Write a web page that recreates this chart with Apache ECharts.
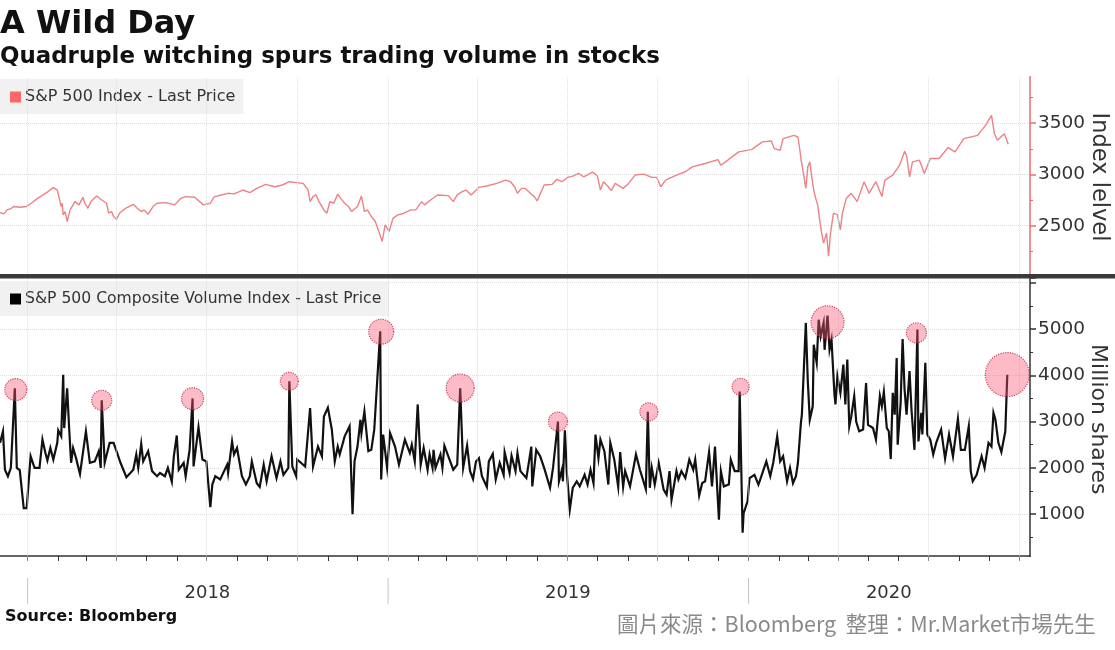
<!DOCTYPE html>
<html>
<head>
<meta charset="utf-8">
<title>A Wild Day</title>
<script src="https://cdn.jsdelivr.net/npm/echarts@6/dist/echarts.min.js"></script>
<style>
html, body { margin: 0; padding: 0; background: #fff; }
#main { width: 1115px; height: 650px; }
</style>
</head>
<body>
<div id="main"></div>
<script>
"use strict";

var startDate = '2017-12-04';
var endDate = '2020-10-12';

/* S&P 500 Index, days after startDate */
var indexDays = [0,4,7,11,14,20,27,33,38,42,47,54,58,60,62,63,64,66,68,71,74,76,80,84,86,89,92,98,103,108,110,113,115,118,121,125,129,135,139,143,146,150,155,159,168,177,183,188,197,206,213,217,224,231,237,246,253,260,269,278,286,293,307,312,314,317,320,323,325,328,331,334,338,342,345,349,353,356,362,366,369,372,376,380,383,387,390,394,398,403,409,416,421,427,430,436,443,454,459,463,468,472,477,485,494,503,512,517,521,524,528,532,537,541,544,548,551,559,564,569,575,580,586,591,600,605,608,611,616,619,623,631,636,643,652,660,665,669,674,685,694,701,714,727,730,737,748,761,772,781,784,790,793,804,808,810,811,813,816,818,820,822,824,826,828,830,832,834,837,839,841,844,848,851,853,857,862,868,875,880,887,893,896,904,911,916,918,921,924,931,936,942,951,960,967,976,990,998,1004,1007,1010,1017,1021];
var indexValues = [2629,2616,2654,2667,2687,2680,2687,2729,2767,2790,2822,2871,2848,2832,2687,2719,2606,2638,2541,2654,2703,2735,2703,2777,2719,2670,2735,2790,2751,2719,2622,2638,2590,2564,2622,2654,2680,2709,2670,2638,2654,2612,2687,2719,2725,2703,2767,2784,2777,2703,2719,2784,2800,2816,2810,2848,2822,2864,2903,2880,2897,2929,2913,2848,2735,2784,2800,2735,2703,2654,2622,2735,2719,2809,2767,2719,2687,2638,2687,2790,2638,2654,2590,2541,2460,2348,2509,2444,2574,2606,2622,2654,2654,2735,2703,2751,2800,2793,2735,2800,2832,2848,2800,2874,2890,2913,2945,2929,2880,2816,2864,2864,2816,2784,2742,2832,2897,2903,2952,2929,2971,2984,3010,2977,3023,2984,2848,2929,2880,2842,2913,2864,2906,2994,3003,2971,2971,2880,2945,2994,3026,3074,3107,3145,3090,3139,3220,3242,3317,3326,3252,3236,3349,3381,3365,3236,3155,3042,2864,3074,3123,2977,2848,2767,2703,2557,2428,2331,2428,2202,2428,2622,2606,2460,2622,2767,2816,2735,2929,2816,2929,2784,2945,2994,3090,3226,3187,2977,3123,3139,3010,3155,3155,3262,3220,3349,3381,3478,3575,3397,3333,3397,3294];

/* S&P 500 Composite Volume Index, days after startDate */
var volumeDays = [0,3,5,8,11,13,15,17,20,24,27,31,35,40,43,46,48,51,54,58,59,62,64,65,68,70,72,74,77,81,87,91,96,100,102,103,106,111,115,118,122,128,135,138,140,143,145,150,154,159,162,167,170,174,176,179,181,186,188,192,195,196,201,205,209,213,215,218,223,230,231,235,237,240,245,249,253,255,260,263,267,270,275,280,284,287,292,293,296,300,301,309,314,317,322,326,328,332,336,339,342,344,349,354,357,359,362,365,366,369,373,376,379,381,385,386,388,392,395,400,404,410,415,417,420,423,426,429,433,435,438,439,441,446,448,450,454,459,463,466,469,473,476,479,482,485,488,493,495,499,502,506,510,511,516,518,522,524,527,533,536,538,539,543,547,551,557,560,565,566,569,570,572,574,577,580,584,587,592,595,598,601,603,606,608,612,616,618,622,626,628,631,633,638,644,648,654,656,658,660,663,667,672,675,678,680,685,687,690,694,698,702,704,708,711,714,718,721,724,728,730,733,738,740,744,748,749,752,753,757,759,764,768,771,776,780,783,787,790,793,797,800,803,806,808,811,812,816,818,820,823,824,827,829,831,834,835,838,840,842,845,846,848,851,854,856,858,860,862,865,867,870,874,877,879,884,887,891,893,895,898,900,902,904,906,908,909,912,914,916,918,921,923,926,929,930,933,934,937,939,942,945,948,953,957,961,965,970,973,977,981,983,985,989,994,997,1001,1004,1006,1008,1011,1014,1018,1020];
var volumeValues = [2540,2790,1960,1820,2000,2030,3720,2000,1950,1130,1130,2250,2000,2000,2610,2320,2160,2430,2180,2540,2810,2680,4010,2860,3720,2860,2110,2430,2210,1870,2790,2110,2140,2360,2000,3460,2110,2540,2540,2360,2110,1800,1960,2290,2000,2520,2140,2360,1930,1820,1890,1820,2000,1700,2250,2700,1960,2110,1820,2390,3500,2030,2880,2180,2140,1150,1640,1820,1750,2070,1890,2570,2290,2430,1820,1640,1820,2140,1670,1590,2070,1710,2250,1780,2140,1850,2000,3870,2030,1820,2180,2030,3290,2030,2460,2250,3110,3300,2830,2140,2460,2290,2680,2900,1000,2140,2460,3040,2750,3220,2360,2390,2830,2830,4950,1750,2720,2000,2750,2460,2070,2610,2320,2500,2140,3370,2070,2430,1960,2290,2000,2390,2000,2290,2000,2480,2250,1960,2070,3720,2000,2480,1930,1760,2140,2210,1820,1590,2140,2300,1750,2110,1850,2340,1890,2260,1930,2320,1930,1780,2180,2460,1600,2390,2250,2000,1570,2000,3000,1710,1960,1710,2810,1890,1100,1570,1710,1600,1850,1640,1960,1670,2720,2210,2610,2360,1640,2540,2180,1590,2340,1590,1930,1600,2290,1960,1540,3210,1570,2000,1640,2110,1530,1420,1930,1310,1930,1750,1930,1780,2180,1960,2180,1400,1670,1710,2340,1600,2460,880,1930,1600,1640,2180,1930,1930,3650,600,1020,1280,1780,1850,1640,1820,2140,1820,2110,2680,2140,2250,1710,2000,1670,1820,2110,2970,3150,5130,3870,3040,3330,4660,4270,5200,4840,5130,4550,5290,4550,4770,3580,3370,3980,3620,4230,3370,4340,2900,3110,3550,3000,2790,2830,3830,2930,2860,2610,3550,3330,3640,2860,2790,2190,3620,3150,4370,2500,3400,4780,3690,3150,4090,3260,2390,4990,2570,3190,2720,4270,2720,2610,2290,2540,2830,2200,2720,2250,3060,2390,2390,2900,1930,1710,1850,2250,2000,2540,2460,3190,3040,2540,2340,2790,4010];

/* quadruple witching highlights */
var witchingDays = [16,103,195,293,386,466,565,657,750,838,928,1020];
var witchingValues = [3690,3460,3495,3870,4940,3725,3000,3210,3750,5145,4915,4015];
var witchingSizes = [22,20,22,18,25,28,19,18,17,33,20,44];

var monthTicks = ['2018-01-01','2018-02-01','2018-03-01','2018-04-01','2018-05-01','2018-06-01','2018-07-01','2018-08-01','2018-09-01','2018-10-01','2018-11-01','2018-12-01','2019-01-01','2019-02-01','2019-03-01','2019-04-01','2019-05-01','2019-06-01','2019-07-01','2019-08-01','2019-09-01','2019-10-01','2019-11-01','2019-12-01','2020-01-01','2020-02-01','2020-03-01','2020-04-01','2020-05-01','2020-06-01','2020-07-01','2020-08-01','2020-09-01','2020-10-01'];
var quarterLines = ['2018-01-01','2018-04-01','2018-07-01','2018-10-01','2019-01-01','2019-04-01','2019-07-01','2019-10-01','2020-01-01','2020-04-01','2020-07-01','2020-10-01'];
var yearStarts = ['2018-01-01','2019-01-01','2020-01-01'];
var yearLabels = ['2018-07-02','2019-07-02','2020-05-22'];

var DAY = 86400000;
function toTime(s) {
	return new Date(s + 'T00:00:00Z').getTime();
}
function zip(days, values) {
	var t0 = toTime(startDate);
	return days.map(function (d, i) {
		return [t0 + d * DAY, values[i]];
	});
}
var gridColor = '#dedede';
var quarterData = quarterLines.map(function (s) {
	return { xAxis: toTime(s) };
});
function quarterMarks() {
	return {
		silent: true,
		symbol: 'none',
		animation: false,
		label: { show: false },
		lineStyle: { color: gridColor, type: 'dotted', width: 1 },
		data: quarterData
	};
}

var chart = echarts.init(document.getElementById('main'), null, { renderer: 'canvas' });
var option = {
	animation: false,
	backgroundColor: '#fff',
	textStyle: { fontFamily: 'DejaVu Sans' },
	title: [
		{ text: 'A Wild Day', left: 0, top: 9, padding: 0, textStyle: { fontFamily: 'DejaVu Sans', fontSize: 32, fontWeight: 'bold', color: '#111' } },
		{ text: 'Quadruple witching spurs trading volume in stocks', left: 0, top: 46, padding: 0, textStyle: { fontFamily: 'DejaVu Sans', fontSize: 22.9, fontWeight: 'bold', color: '#111' } },
		{ text: 'Source: Bloomberg', left: 5, top: 609, padding: 0, textStyle: { fontFamily: 'DejaVu Sans', fontSize: 16, fontWeight: 'bold', color: '#111' } },
		{ text: '圖片來源\uFF1ABloomberg  整理\uFF1AMr.Market市場先生', left: 617, top: 613, padding: 0, textStyle: { fontFamily: 'Noto Sans CJK TC', fontSize: 21.5, fontWeight: 'normal', color: '#8a8a8a' } }
	],
	legend: [
		{ data: ['S&P 500 Index - Last Price'], left: 0, top: 79, padding: [10, 8, 9, 10], itemGap: 0, itemWidth: 11, itemHeight: 11, icon: 'rect', backgroundColor: '#f1f1f1', selectedMode: false, textStyle: { fontFamily: 'DejaVu Sans', fontSize: 16, color: '#333', padding: [0, 0, 0, -1] } },
		{ data: ['S&P 500 Composite Volume Index - Last Price'], left: 0, top: 281, padding: [10, 8, 9, 10], itemGap: 0, itemWidth: 11, itemHeight: 11, icon: 'rect', backgroundColor: '#f1f1f1', selectedMode: false, textStyle: { fontFamily: 'DejaVu Sans', fontSize: 15.6, color: '#333', padding: [0, 0, 0, -1] } }
	],
	grid: [
		{ left: 0, width: 1030, top: 77, height: 200, outerBoundsMode: 'none' },
		{ left: 0, width: 1030, top: 278, height: 282.5, outerBoundsMode: 'none' }
	],
	xAxis: [
		{
			type: 'value', gridIndex: 0, min: toTime(startDate), max: toTime(endDate),
			axisLine: { show: false }, axisTick: { show: false }, axisLabel: { show: false }, splitLine: { show: false }
		},
		{
			type: 'value', gridIndex: 1, min: toTime(startDate), max: toTime(endDate),
			offset: -4.5,
			axisLine: { show: true, onZero: false, lineStyle: { color: '#333', width: 1.5 } },
			axisTick: { show: true, length: 5, lineStyle: { color: '#333', width: 1 }, customValues: monthTicks.map(toTime) },
			axisLabel: {
				show: true, margin: 28, fontSize: 18, color: '#333', fontFamily: 'DejaVu Sans',
				customValues: yearLabels.map(toTime),
				formatter: function (v) { return String(new Date(v).getUTCFullYear()); }
			},
			splitLine: { show: false }
		}
	],
	yAxis: [
		{
			type: 'value', gridIndex: 0, position: 'right', min: 2000, max: 3950, interval: 500,
			name: 'Index lelvel', nameLocation: 'middle', nameRotate: -90, nameGap: 57, nameMoveOverlap: false,
			nameTextStyle: { fontFamily: 'DejaVu Sans', fontSize: 22.5, color: '#333' },
			axisLine: { show: true, lineStyle: { color: '#ef6a6f', width: 1.5 } },
			axisTick: { show: true, length: 6, lineStyle: { color: '#ef6a6f', width: 1.5 } },
			minorTick: { show: true, splitNumber: 2, length: 3, lineStyle: { color: '#ef6a6f' } },
			axisLabel: {
				margin: 8, fontSize: 18.5, color: '#333', fontFamily: 'DejaVu Sans', padding: [3, 0, 0, 0],
				formatter: function (v) { return v >= 2500 && v <= 3500 ? String(v) : ''; }
			},
			splitLine: { show: true, showMinLine: false, showMaxLine: false, lineStyle: { color: gridColor, type: 'dotted' } }
		},
		{
			type: 'value', gridIndex: 1, position: 'right', min: 0, max: 6100, interval: 1000,
			name: 'Million shares', nameLocation: 'middle', nameRotate: -90, nameGap: 57, nameMoveOverlap: false,
			nameTextStyle: { fontFamily: 'DejaVu Sans', fontSize: 22, color: '#333' },
			axisLine: { show: true, lineStyle: { color: '#333', width: 1.5 } },
			axisTick: { show: true, length: 6, lineStyle: { color: '#333', width: 1.5 } },
			minorTick: { show: true, splitNumber: 2, length: 3, lineStyle: { color: '#333' } },
			axisLabel: {
				margin: 8, fontSize: 18.5, color: '#333', fontFamily: 'DejaVu Sans', padding: [3, 0, 0, 0],
				formatter: function (v) { return v >= 1000 && v <= 5000 ? String(v) : ''; }
			},
			splitLine: { show: true, showMinLine: false, showMaxLine: false, lineStyle: { color: gridColor, type: 'dotted' } }
		}
	],
	series: [
		{
			name: 'S&P 500 Index - Last Price', type: 'line', xAxisIndex: 0, yAxisIndex: 0,
			data: zip(indexDays, indexValues), showSymbol: false, symbol: 'none',
			itemStyle: { color: '#ff6666' },
			lineStyle: { color: '#ee8287', width: 1.4 },
			markLine: quarterMarks()
		},
		{
			name: 'S&P 500 Composite Volume Index - Last Price', type: 'line', xAxisIndex: 1, yAxisIndex: 1,
			data: zip(volumeDays, volumeValues), showSymbol: false, symbol: 'none',
			itemStyle: { color: '#000' },
			lineStyle: { color: '#111', width: 2.2, join: 'miter' },
			markLine: quarterMarks()
		},
		{
			name: 'Quadruple witching', type: 'scatter', xAxisIndex: 1, yAxisIndex: 1, z: 5,
			data: zip(witchingDays, witchingValues),
			symbolSize: function (val, params) { return witchingSizes[params.dataIndex]; },
			itemStyle: { color: 'rgba(250, 85, 115, 0.5)', borderColor: '#c2203f', borderWidth: 1.2, borderType: 'dotted' }
		}
	]
};
chart.setOption(option);

/* divider band, year separators, hide the axis stubs beyond the plot */
var shapes = [
	{ type: 'rect', z: 20, shape: { x: 0, y: 274, width: 1115, height: 4.5 }, style: { fill: '#3a3a3a' } },
	{ type: 'rect', z: 20, shape: { x: 1026, y: 557, width: 14, height: 7 }, style: { fill: '#fff' } },
	{ type: 'rect', z: 20, shape: { x: 1031, y: 74, width: 9, height: 5 }, style: { fill: '#fff' } }
];
yearStarts.forEach(function (s) {
	var x = chart.convertToPixel({ xAxisIndex: 1 }, toTime(s));
	shapes.push({ type: 'line', z: 20, shape: { x1: x, y1: 578, x2: x, y2: 604 }, style: { stroke: '#c4c4c4', lineWidth: 1 } });
});
chart.setOption({ graphic: shapes });
</script>
</body>
</html>
